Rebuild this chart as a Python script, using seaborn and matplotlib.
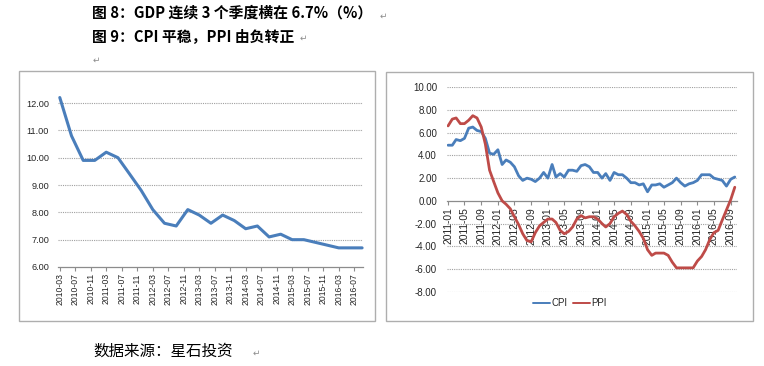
import pandas as pd
import matplotlib
matplotlib.use("Agg")
import matplotlib.pyplot as plt
import matplotlib.dates as mdates
from matplotlib.patches import Rectangle
import seaborn as sns

# GDP (quarterly, cumulative yoy %)
gdp_dates = pd.date_range("2010-03-01", "2016-09-01", freq="3MS")
gdp_values = [12.2, 10.8, 9.9, 9.9, 10.2, 10.0, 9.4, 8.8, 8.1, 7.6, 7.5, 8.1, 7.9, 7.6,
              7.9, 7.7, 7.4, 7.5, 7.1, 7.2, 7.0, 7.0, 6.9, 6.8, 6.7, 6.7, 6.7]

# CPI / PPI (monthly yoy %)
cpi_dates = pd.date_range("2011-01-01", "2016-10-01", freq="MS")
cpi_values = [4.9, 4.9, 5.4, 5.3, 5.5, 6.4, 6.5, 6.2, 6.1, 5.5, 4.2, 4.1,
              4.5, 3.2, 3.6, 3.4, 3.0, 2.2, 1.8, 2.0, 1.9, 1.7, 2.0, 2.5,
              2.0, 3.2, 2.1, 2.4, 2.1, 2.7, 2.7, 2.6, 3.1, 3.2, 3.0, 2.5,
              2.5, 2.0, 2.4, 1.8, 2.5, 2.3, 2.3, 2.0, 1.6, 1.6, 1.4, 1.5,
              0.8, 1.4, 1.4, 1.5, 1.2, 1.4, 1.6, 2.0, 1.6, 1.3, 1.5, 1.6,
              1.8, 2.3, 2.3, 2.3, 2.0, 1.9, 1.8, 1.3, 1.9, 2.1]
ppi_values = [6.6, 7.2, 7.3, 6.8, 6.8, 7.1, 7.5, 7.3, 6.5, 5.0, 2.7, 1.7,
              0.7, 0.0, -0.3, -0.7, -1.4, -2.1, -2.9, -3.5, -3.6, -2.8, -2.2, -1.9,
              -1.6, -1.6, -1.9, -2.6, -2.9, -2.7, -2.3, -1.6, -1.3, -1.5, -1.4, -1.4,
              -1.6, -2.0, -2.3, -2.0, -1.4, -1.1, -0.9, -1.2, -1.8, -2.2, -2.7, -3.3,
              -4.3, -4.8, -4.6, -4.6, -4.6, -4.8, -5.4, -5.9, -5.9, -5.9, -5.9, -5.9,
              -5.3, -4.9, -4.3, -3.4, -2.8, -2.6, -1.7, -0.8, 0.1, 1.2]

title1 = "图 8：GDP 连续 3 个季度横在 6.7%（%）"
title2 = "图 9：CPI 平稳，PPI 由负转正"
source = "数据来源：星石投资"

gdp_df = pd.DataFrame({"date": gdp_dates, "value": gdp_values})
prices_df = pd.concat([
    pd.DataFrame({"date": cpi_dates, "value": cpi_values, "series": "CPI"}),
    pd.DataFrame({"date": cpi_dates, "value": ppi_values, "series": "PPI"}),
])

sns.set_theme(style="white")
plt.rcParams["font.family"] = ["Liberation Sans", "Noto Sans CJK SC", "DejaVu Sans"]

W, H = 764, 366
BLUE = "#4A7EBB"
RED = "#BE4B48"
GRID = "#A0A0A0"
AXIS = "#8C8C8C"
TXT = "#262626"
cjk = ["Noto Sans CJK SC", "DejaVu Sans"]


def box(x0, y0, x1, y1):
    return [x0 / W, 1 - y1 / H, (x1 - x0) / W, (y1 - y0) / H]


fig = plt.figure(figsize=(W / 100, H / 100), dpi=100)
fig.patch.set_facecolor("white")

# chart frames
for x0, y0, x1, y1 in [(19, 71, 375, 321), (386, 72, 752.5, 321)]:
    fig.patches.append(Rectangle((x0 / W, 1 - y1 / H), (x1 - x0) / W, (y1 - y0) / H,
                                 transform=fig.transFigure, fill=False,
                                 edgecolor="#AEAEAE", lw=1.0))

# === Left: GDP ===
ax1 = fig.add_axes(box(58, 94.8, 363, 267))
sns.lineplot(data=gdp_df, x="date", y="value", ax=ax1, color=BLUE, lw=2.2, clip_on=False)
ax1.set_ylim(6, 12.3)
ax1.set_xlim(pd.Timestamp("2010-02-15"), pd.Timestamp("2016-09-08"))
ax1.set_yticks(range(6, 13))
ax1.set_yticklabels([f"{v:.2f}" for v in range(6, 13)])
for v in range(7, 13):
    ax1.axhline(v, color=GRID, lw=0.8, ls=(0, (1, 1)), zorder=0)
ax1.xaxis.set_major_locator(mdates.MonthLocator(bymonth=[3, 7, 11]))
ax1.xaxis.set_major_formatter(mdates.DateFormatter("%Y-%m"))

# === Right: CPI / PPI ===
ax2 = fig.add_axes(box(446.7, 87.3, 736.7, 291.7))
sns.lineplot(data=prices_df, x="date", y="value", hue="series", ax=ax2,
             palette={"CPI": BLUE, "PPI": RED}, lw=2.0, legend=False)
ax2.set_ylim(-8, 10)
ax2.set_xlim(pd.Timestamp("2010-12-22"), pd.Timestamp("2016-10-15"))
ax2.set_yticks(range(-8, 11, 2))
ax2.set_yticklabels([f"{v:.2f}" for v in range(-8, 11, 2)])
for v in range(-8, 11, 2):
    if v != 0:
        ax2.axhline(v, color=GRID, lw=0.8, ls=(0, (1, 1)), zorder=0)
ax2.spines["bottom"].set_position(("data", 0))
ax2.xaxis.set_major_locator(mdates.MonthLocator(bymonth=[1, 5, 9]))
ax2.xaxis.set_major_formatter(mdates.DateFormatter("%Y-%m"))

for ax, xs, ys, ypad in [(ax1, 6.2, 6.6, 6.5), (ax2, 7.4, 7.0, 7.0)]:
    ax.set_xlabel("")
    ax.set_ylabel("")
    ax.set_facecolor("none")
    for s in ["top", "right", "left"]:
        ax.spines[s].set_visible(False)
    ax.spines["bottom"].set_color(AXIS)
    ax.spines["bottom"].set_linewidth(0.9)
    ax.spines["bottom"].set_zorder(1)
    ax.tick_params(axis="x", which="major", bottom=True, length=3, width=0.8,
                   color=AXIS, labelsize=xs, labelcolor=TXT, pad=1.5, labelrotation=90)
    ax.tick_params(axis="y", left=False, length=0, labelsize=ys, labelcolor=TXT, pad=ypad)

handles = [plt.Line2D([], [], color=BLUE, lw=1.4), plt.Line2D([], [], color=RED, lw=1.4)]
fig.legend(handles, ["CPI", "PPI"], loc="center", bbox_to_anchor=(570 / W, 1 - 303 / H),
           ncol=2, frameon=False, fontsize=7, handlelength=1.7, handletextpad=0.15,
           columnspacing=0.6, labelcolor=TXT)

# document text
fig.text(92 / W, 1 - 13 / H, title1, family=cjk, fontsize=10.7, fontweight="bold",
         va="center", ha="left", color="black")
fig.text(92 / W, 1 - 36 / H, title2, family=cjk, fontsize=10.7, fontweight="bold",
         va="center", ha="left", color="black")
fig.text(93 / W, 1 - 351 / H, source, family=cjk, fontsize=11.2,
         va="center", ha="left", color="black")
for x, y in [(383, 16), (303, 38), (96, 60), (256, 353)]:
    fig.text(x / W, 1 - y / H, "↵", family="DejaVu Sans", fontsize=6.5,
             va="center", ha="center", color="#8C8C8C")

fig.savefig("out.png", dpi=100, facecolor="white")
